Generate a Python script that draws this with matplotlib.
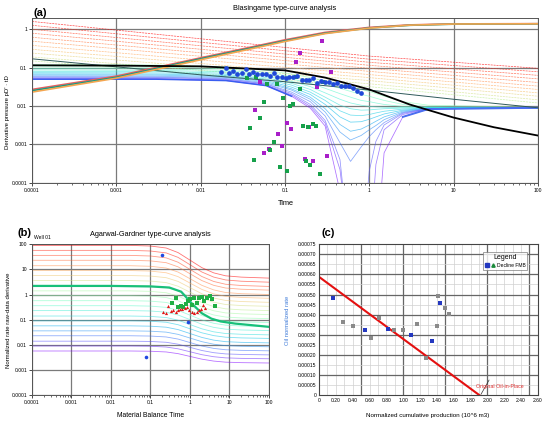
import numpy as np
import matplotlib
matplotlib.use('Agg')
import matplotlib.pyplot as plt
from matplotlib.lines import Line2D
from matplotlib.legend_handler import HandlerTuple
from matplotlib.ticker import NullLocator, LogLocator, NullFormatter

plt.rcParams['font.family'] = ['Liberation Sans', 'DejaVu Sans']

# ---------------- (a) Blasingame type curves ----------------
# upper (transient) family: value at t = 1e-4, 1, 100
up_t = [1e-4, 1, 100]
up_left = [1.6, 1.27, 1.0, 0.79, 0.62, 0.49, 0.38, 0.30, 0.24, 0.19, 0.15]
up_mid = [0.2, 0.166, 0.138, 0.115, 0.096, 0.08, 0.066, 0.055, 0.046, 0.038, 0.032]
up_right = [0.096, 0.078, 0.063, 0.051, 0.041, 0.033, 0.027, 0.022, 0.018, 0.0145, 0.012]

# lower (boundary) family read at these times
low_t = [1e-4, 0.003, 0.02, 0.06, 0.12, 0.2, 0.3, 0.45, 0.6, 0.8, 1.0, 1.2, 1.5, 2.5, 5, 100]
low_curves = [
    [0.12, 0.117, 0.105, 0.085, 0.068, 0.055, 0.045, 0.037, 0.032, 0.027, 0.024, 0.021, 0.018, 0.013, 0.0105, 0.0092],
    [0.105, 0.103, 0.094, 0.075, 0.059, 0.047, 0.037, 0.029, 0.024, 0.02, 0.018, 0.016, 0.014, 0.011, 0.0096, 0.009],
    [0.095, 0.093, 0.085, 0.067, 0.051, 0.039, 0.029, 0.021, 0.017, 0.014, 0.013, 0.012, 0.011, 0.0097, 0.0092, 0.009],
    [0.087, 0.085, 0.078, 0.06, 0.044, 0.032, 0.022, 0.015, 0.012, 0.0105, 0.0098, 0.0095, 0.0093, 0.0091, 0.009, 0.009],
    [0.08, 0.079, 0.072, 0.055, 0.039, 0.027, 0.017, 0.0105, 0.0085, 0.0078, 0.0079, 0.0082, 0.0085, 0.0088, 0.009, 0.009],
    [0.074, 0.073, 0.067, 0.05, 0.035, 0.023, 0.014, 0.0075, 0.0058, 0.0056, 0.006, 0.0066, 0.0073, 0.0083, 0.0089, 0.009],
    [0.069, 0.068, 0.062, 0.046, 0.031, 0.02, 0.011, 0.0052, 0.0038, 0.0039, 0.0045, 0.0052, 0.0062, 0.0078, 0.0088, 0.009],
    [0.065, 0.064, 0.058, 0.043, 0.028, 0.017, 0.0085, 0.0033, 0.0022, 0.0025, 0.0032, 0.004, 0.0052, 0.0074, 0.0087, 0.009],
    [0.061, 0.06, 0.055, 0.04, 0.026, 0.015, 0.007, 0.0021, 0.0013, 0.0017, 0.0024, 0.0031, 0.0044, 0.007, 0.0086, 0.009],
    [0.058, 0.057, 0.052, 0.038, 0.023, 0.013, 0.0055, 0.0011, 0.00036, 0.00085, 0.0016, 0.0024, 0.0037, 0.0067, 0.0085, 0.009],
    [0.055, 0.055, 0.05, 0.037, 0.021, 0.011, 0.0042, 0.0004, 1e-6, 1e-6, 2e-4, 0.0012, 0.0032, 0.0064, 0.0085, 0.009],
    [0.052, 0.052, 0.048, 0.035, 0.0195, 0.0098, 0.0036, 0.00022, 1e-6, 1e-6, 1e-6, 3e-4, 0.0024, 0.006, 0.0084, 0.009],
    [0.05, 0.05, 0.046, 0.034, 0.018, 0.0088, 0.003, 6e-5, 1e-6, 1e-6, 1e-6, 1e-6, 6e-4, 0.0052, 0.0083, 0.009],
]

slate_t = [1e-4, 1e-3, 0.01, 0.1, 1, 10, 100]
slate_d = [0.17, 0.105, 0.065, 0.043, 0.026, 0.015, 0.009]

black_t = [1e-4, 1e-3, 0.01, 0.1, 0.3, 1, 3, 10, 30, 100]
black_d = [0.115, 0.113, 0.108, 0.085, 0.055, 0.027, 0.011, 0.005, 0.0028, 0.0017]

rise_t = [1e-4, 1e-3, 0.01, 0.1, 0.3, 1, 3, 10, 100]
rise_red = [0.027, 0.06, 0.18, 0.53, 0.83, 1.12, 1.3, 1.38, 1.4]
rise_teal = [0.025, 0.056, 0.17, 0.5, 0.79, 1.08, 1.27, 1.36, 1.39]
rise_orange = [0.023, 0.053, 0.16, 0.48, 0.77, 1.07, 1.28, 1.37, 1.39]

blue_t = [0.0177, 0.0198, 0.0219, 0.0244, 0.0272, 0.0306, 0.0342, 0.0378, 0.0421, 0.047,
          0.0529, 0.059, 0.0664, 0.074, 0.081, 0.0913, 0.102, 0.1126, 0.1256, 0.14,
          0.158, 0.176, 0.194, 0.217, 0.242, 0.267, 0.298, 0.332, 0.367, 0.41,
          0.457, 0.515, 0.574, 0.646, 0.721, 0.796]
blue_d = [0.0755, 0.096, 0.0711, 0.0818, 0.067, 0.074, 0.0904, 0.067, 0.0755, 0.0683,
          0.0683, 0.067, 0.0605, 0.0711, 0.057, 0.057, 0.0548, 0.0558, 0.0582, 0.0618,
          0.0477, 0.0467, 0.0477, 0.0548, 0.0406, 0.0449, 0.0414, 0.0423, 0.0375, 0.039,
          0.0339, 0.0339, 0.0339, 0.0289, 0.0246, 0.0223]

magenta_t = [0.277, 0.152, 0.134, 0.354, 0.05, 0.242, 0.0445, 0.105, 0.119, 0.193,
             0.0826, 0.093, 0.064, 0.0569, 0.315, 0.173, 0.217]
magenta_d = [0.506, 0.236, 0.143, 0.0785, 0.043, 0.0307, 0.0077, 0.00368, 0.00247, 0.00289,
             0.00182, 0.000906, 0.00074, 0.00059, 0.000507, 0.000407, 0.000368]

green_t = [0.0354, 0.046, 0.0617, 0.0804, 0.136, 0.0955, 0.0558, 0.115, 0.1256, 0.051,
           0.0388, 0.165, 0.189, 0.215, 0.235, 0.0734, 0.067, 0.0429, 0.088, 0.105,
           0.177, 0.196, 0.258, 0.149, 0.283]
green_d = [0.0548, 0.056, 0.0367, 0.0367, 0.0582, 0.0165, 0.013, 0.01, 0.011, 0.00497,
           0.00267, 0.00295, 0.0029, 0.00346, 0.00307, 0.00113, 0.0007, 0.000383, 0.000257, 0.0002,
           0.000375, 0.000284, 0.000169, 0.0283, 0.043]

# ---------------- (b) Agarwal-Gardner ----------------
ag_t = [1e-4, 0.03, 0.1, 0.25, 0.5, 1, 2, 4, 8, 20, 100]
ag_shape = [0, 0, 0.02, 0.08, 0.22, 0.45, 0.68, 0.84, 0.93, 0.97, 1.0]
ag_left = [90, 57, 36, 23, 14, 9, 5.7, 3.6, 2.3, 1.4, 0.9, 0.57, 0.36, 0.23, 0.14,
           0.09, 0.057, 0.036, 0.023, 0.014, 0.009, 0.0057]
ag_right = [4.5, 3.1, 2.1, 1.5, 1.0, 0.71, 0.49, 0.34, 0.23, 0.16, 0.11, 0.077, 0.053,
            0.037, 0.025, 0.018, 0.012, 0.0084, 0.0058, 0.004, 0.0028, 0.0019]

ag_match_t = [1e-4, 0.01, 0.1, 0.3, 0.6, 1.1, 2, 3.5, 6, 14, 100]
ag_match_d = [2.2, 2.2, 2.1, 1.9, 1.3, 0.45, 0.18, 0.11, 0.085, 0.07, 0.052]

b_green_t = [0.344, 0.434, 0.507, 0.58, 0.678, 0.776, 0.908, 1.0, 1.15, 1.26, 1.47, 1.69,
             1.97, 2.3, 2.64, 3.2, 3.7, 4.3]
b_green_d = [0.48, 0.76, 0.32, 0.355, 0.32, 0.41, 0.53, 0.65, 0.38, 0.76, 0.48, 0.7,
             0.81, 0.56, 0.76, 0.86, 0.65, 0.355]
b_red_t = [0.211, 0.242, 0.283, 0.33, 0.378, 0.434, 0.487, 0.558, 0.64, 0.747, 0.855,
           0.96, 1.1, 1.26, 1.47, 1.69, 1.9, 2.18, 2.4]
b_red_d = [0.205, 0.187, 0.344, 0.224, 0.239, 0.205, 0.254, 0.278, 0.278, 0.305, 0.32,
           0.254, 0.205, 0.193, 0.205, 0.239, 0.278, 0.377, 0.305]
b_blue_t = [0.2, 0.875, 0.0755]
b_blue_d = [36.6, 0.082, 0.0032]

# ---------------- (c) FMB ----------------
c_blue_q = [0.171, 0.544, 0.814, 1.092, 1.338, 1.437]
c_blue_r = [0.000482, 0.000326, 0.000329, 0.000301, 0.000268, 0.000459]
c_grey_q = [0.29, 0.409, 0.615, 0.711, 0.893, 0.992, 1.163, 1.27, 1.397, 1.413, 1.493, 1.548]
c_grey_r = [0.000363, 0.000343, 0.000286, 0.000382, 0.000326, 0.000323, 0.000353,
            0.000185, 0.000343, 0.000493, 0.000432, 0.000402]
fmb_q = [0, 1.905]
fmb_r = [0.000588, 0]
ooip_q = [1.925, 2.02]
ooip_r = [0.000005, 0.000075]

GRID = '#7a7a7a'
TICK_FS = 3.6

fig = plt.figure(figsize=(5.5, 4.24), dpi=100)


def log_frame(ax, xlim, ylim):
    ax.set_xscale('log')
    ax.set_yscale('log')
    ax.set_xlim(*xlim)
    ax.set_ylim(*ylim)
    xt = [10.0 ** k for k in range(int(np.log10(xlim[0])), int(np.log10(xlim[1])) + 1)]
    yt = [10.0 ** k for k in range(int(np.log10(ylim[0])), int(np.floor(np.log10(ylim[1]))) + 1)]
    ax.set_xticks(xt, [('%g' % v) if v >= 1 else ('%.*f' % (int(-np.log10(v) + 0.5), v)) for v in xt])
    ax.set_yticks(yt, [('%g' % v) if v >= 1 else ('%.*f' % (int(-np.log10(v) + 0.5), v)) for v in yt])
    ax.xaxis.set_minor_locator(LogLocator(base=10, subs=np.arange(2, 10)))
    ax.xaxis.set_minor_formatter(NullFormatter())
    ax.yaxis.set_minor_locator(NullLocator())
    ax.tick_params(which='major', labelsize=TICK_FS, length=2, width=0.5, pad=1.5)
    ax.tick_params(which='minor', length=1.2, width=0.4)
    ax.grid(True, which='major', color=GRID, lw=0.9)
    ax.set_axisbelow(True)
    for s in ax.spines.values():
        s.set_color('#555555')
        s.set_linewidth(0.7)


# ---------- panel (a) ----------
ax = fig.add_axes([0.058, 0.569, 0.920, 0.388])
log_frame(ax, (1e-4, 100), (1e-4, 1.94))
up_cols = plt.cm.rainbow(np.linspace(1.0, 0.62, len(up_left)))
for i in range(len(up_left)):
    ax.plot(up_t, [up_left[i], up_mid[i], up_right[i]], color=up_cols[i], lw=0.5,
            ls=(0, (3, 1.2)), alpha=0.7)
low_cols = plt.cm.rainbow(np.linspace(0.5, 0.02, len(low_curves)))
for i, c in enumerate(low_curves):
    ax.plot(low_t, c, color=low_cols[i], lw=0.55, alpha=0.6)
ax.plot(low_t[:5], low_curves[-1][:5], color='#3a5ef0', lw=1.1)
ax.plot(low_t[-3:], low_curves[-1][-3:], color='#4a6ef0', lw=1.4)
ax.plot(slate_t, slate_d, color='#2f5a5a', lw=0.7)
ax.plot(rise_t, rise_red, color='#e86060', lw=1.2)
ax.plot(rise_t, rise_teal, color='#159a85', lw=1.2)
ax.plot(rise_t, rise_orange, color='#f4a650', lw=1.2)
ax.plot(black_t, black_d, color='black', lw=1.3)
ax.plot(magenta_t, magenta_d, 's', color='#a81ec8', ms=2.3, mew=0)
ax.plot(green_t, green_d, 's', color='#16a04a', ms=2.5, mew=0)
ax.plot(blue_t, blue_d, 'o', color='#1f48d8', ms=3.4, mew=0)

fig.text(0.073, 0.970, '(a)', fontsize=8, fontweight='bold', ha='center', va='center')
fig.text(0.518, 0.979, 'Blasingame type-curve analysis', fontsize=5.3, ha='center', va='center')
fig.text(0.52, 0.521, 'Time', fontsize=5.3, ha='center', va='center')
fig.text(0.014, 0.736, "Derivative pressure pD' · tD", fontsize=4.3, rotation=90,
         ha='center', va='center')

# ---------- panel (b) ----------
bx = fig.add_axes([0.058, 0.068, 0.431, 0.356])
log_frame(bx, (1e-4, 100), (1e-4, 100))
ag_cols = plt.cm.rainbow(np.linspace(1.0, 0.0, len(ag_left)))
for i in range(len(ag_left)):
    curve = [ag_left[i] * (ag_right[i] / ag_left[i]) ** s for s in ag_shape]
    bx.plot(ag_t, curve, color=ag_cols[i], lw=0.6, alpha=0.55)
bx.plot(ag_match_t, ag_match_d, color='#18c07a', lw=1.6)
bx.plot(b_green_t, b_green_d, 's', color='#1fae44', ms=2.3, mew=0)
bx.plot(b_red_t, b_red_d, '^', color='#e01818', ms=2.3, mew=0)
bx.plot(b_blue_t, b_blue_d, 'o', color='#1f48e0', ms=2.6, mew=0)

fig.text(0.045, 0.450, '(b)', fontsize=8, fontweight='bold', ha='center', va='center')
fig.text(0.062, 0.439, 'Well 01', fontsize=3.6, ha='left', va='center')
fig.text(0.273, 0.448, 'Agarwal-Gardner type-curve analysis', fontsize=5.3, ha='center', va='center')
fig.text(0.273, 0.019, 'Material Balance Time', fontsize=4.9, ha='center', va='center')
fig.text(0.015, 0.245, 'Normalized rate raw-data derivative', fontsize=4.3, rotation=90,
         ha='center', va='center')

# ---------- panel (c) ----------
cx = fig.add_axes([0.58, 0.068, 0.398, 0.356])
cx.set_xlim(0, 2.6)
cx.set_ylim(0, 0.00075)
for v in np.arange(0.1, 2.6, 0.1):
    dark = abs(v / 0.5 - round(v / 0.5)) < 1e-6
    cx.axvline(v, color='#666666' if dark else '#d0d0d0', lw=0.9 if dark else 0.5, zorder=0)
for v in np.arange(0.00005, 0.00075, 0.00005):
    dark = abs(v / 0.0001 - round(v / 0.0001)) < 1e-6
    cx.axhline(v, color='#666666' if dark else '#d0d0d0', lw=0.9 if dark else 0.5, zorder=0)
xt = np.arange(0, 2.61, 0.2)
cx.set_xticks(xt, ['0'] + ['%.2f' % v for v in xt[1:]])
yt = np.arange(0, 0.000751, 0.00005)
cx.set_yticks(yt, ['0'] + ['%.5f' % v for v in yt[1:]])
cx.tick_params(labelsize=TICK_FS, length=0, pad=2)
for s in cx.spines.values():
    s.set_color('#444444')
    s.set_linewidth(0.8)

cx.plot(fmb_q, fmb_r, color='#e41010', lw=1.5)
cx.plot(ooip_q, ooip_r, color='#333333', lw=0.5)
cx.plot(c_grey_q, c_grey_r, 's', color='#8a8a8a', ms=2.4, mew=0)
cx.plot(c_blue_q, c_blue_r, 's', color='#2438c0', ms=2.6, mew=0)
cx.text(1.866, 0.0000414, 'Original Oil-in-Place', fontsize=3.8, color='#e03030',
        ha='left', va='center')

h = (Line2D([], [], marker='s', ls='', color='#2438c0', ms=2.4),
     Line2D([], [], marker='^', ls='', color='#1a8a3a', ms=2.4))
leg = cx.legend([h], ['Decline FMB'], handler_map={tuple: HandlerTuple(ndivide=None, pad=0.3)},
                title='Legend', loc='upper right', bbox_to_anchor=(0.963, 0.968),
                fontsize=3.6, title_fontsize=5, frameon=True, fancybox=False,
                handlelength=2.0, borderpad=0.4, handletextpad=0.3)
leg.get_frame().set_edgecolor('#777777')
leg.get_frame().set_linewidth(0.6)

fig.text(0.597, 0.450, '(c)', fontsize=8, fontweight='bold', ha='center', va='center')
fig.text(0.522, 0.245, 'Oil normalized rate', fontsize=4.2, rotation=90, color='#3a78d8',
         ha='center', va='center')
fig.text(0.778, 0.021, 'Normalized cumulative production (10^6 m3)', fontsize=4.5,
         ha='center', va='center')

fig.savefig('out.png', dpi=100)
